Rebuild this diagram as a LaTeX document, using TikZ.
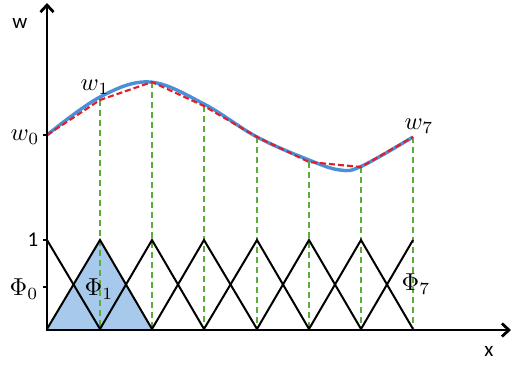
\documentclass[tikz,border=0pt]{standalone}
\usepackage{graphicx}
\usepackage{fontspec}
\newfontfamily\lab{Carlito}
\usetikzlibrary{arrows.meta}
\newcommand{\mylbl}[1]{\scalebox{2.45}{$#1$}}
\begin{document}
\begin{tikzpicture}[x=1pt,y=-1pt,
  axis/.style={line width=2.8pt,-{Straight Barb[length=7pt,width=13pt,line width=2.8pt]}},
  hat/.style={line width=2pt,black},
  guide/.style={color={rgb,255:red,92;green,172;blue,58},line width=2.2pt,dash pattern=on 6pt off 4pt},
  interp/.style={color={rgb,255:red,225;green,30;blue,40},line width=2.1pt,dash pattern=on 6pt off 3pt},
  curve/.style={color={rgb,255:red,74;green,144;blue,217},line width=3.4pt},
  lbl/.style={font=\lab\fontsize{21}{23}\selectfont,inner sep=0pt},
  mlbl/.style={inner sep=0pt}]
\useasboundingbox (0,0) rectangle (512,365);
% coordinates
\foreach \i/\x in {0/47,1/100,2/152,3/204,4/257,5/309,6/361,7/413}{
  \coordinate (b\i) at (\x,329);
  \coordinate (t\i) at (\x,240);
}
\coordinate (w0) at (47,135);
\coordinate (w1) at (100,100);
\coordinate (w2) at (152,82);
\coordinate (w3) at (204,106);
\coordinate (w4) at (257,137);
\coordinate (w5) at (309,162);
\coordinate (w6) at (361,167);
\coordinate (w7) at (413,137);
% filled Phi_1
\fill[color={rgb,255:red,166;green,201;blue,236}] (b0) -- (t1) -- (b2) -- cycle;
% green guides
\foreach \i in {1,...,7}{ \draw[guide] (w\i) -- (b\i); }
% hats
\draw[hat] (t0) -- (b1);
\foreach \i/\j/\k in {0/1/2,1/2/3,2/3/4,3/4/5,4/5/6,5/6/7}{
  \draw[hat] (b\i) -- (t\j) -- (b\k);
}
\draw[hat] (b6) -- (t7);
% blue curve
\draw[curve] plot[smooth,tension=0.6] coordinates {(47,135) (100,97) (150,82) (204,104) (257,137) (309,160) (340,170) (362,166) (413,137)};
% red interpolation
\draw[interp] (w0) -- (w1) -- (w2) -- (w3) -- (w4) -- (w5) -- (w6) -- (w7);
% axes
\coordinate (o) at (47,330);
\coordinate (ytop) at (47,3);
\coordinate (xend) at (511,330);
\draw[axis] (o) -- (ytop);
\draw[axis] ([xshift=-1.4pt]o) -- (xend);
% ticks
\draw[line width=2pt] (43,135) -- (47,135);
\draw[line width=2pt] (43,240) -- (47,240);
\draw[line width=2pt] (43,287) -- (47,287);
% labels
\node[lbl] (lw) at (20,23) {w};
\node[lbl] (lx) at (489,351) {x};
\node[lbl] (l1) at (33,240) {1};
\node[mlbl] (lw0) at (25,137) {\mylbl{w_0}};
\node[mlbl] (lw1) at (95,87) {\mylbl{w_1}};
\node[mlbl] (lw7) at (419,126) {\mylbl{w_7}};
\node[mlbl] (lp0) at (24,289) {\mylbl{\Phi_0}};
\node[mlbl] (lp1) at (99,289) {\mylbl{\Phi_1}};
\node[mlbl] (lp7) at (416,284) {\mylbl{\Phi_7}};
\end{tikzpicture}
\end{document}
